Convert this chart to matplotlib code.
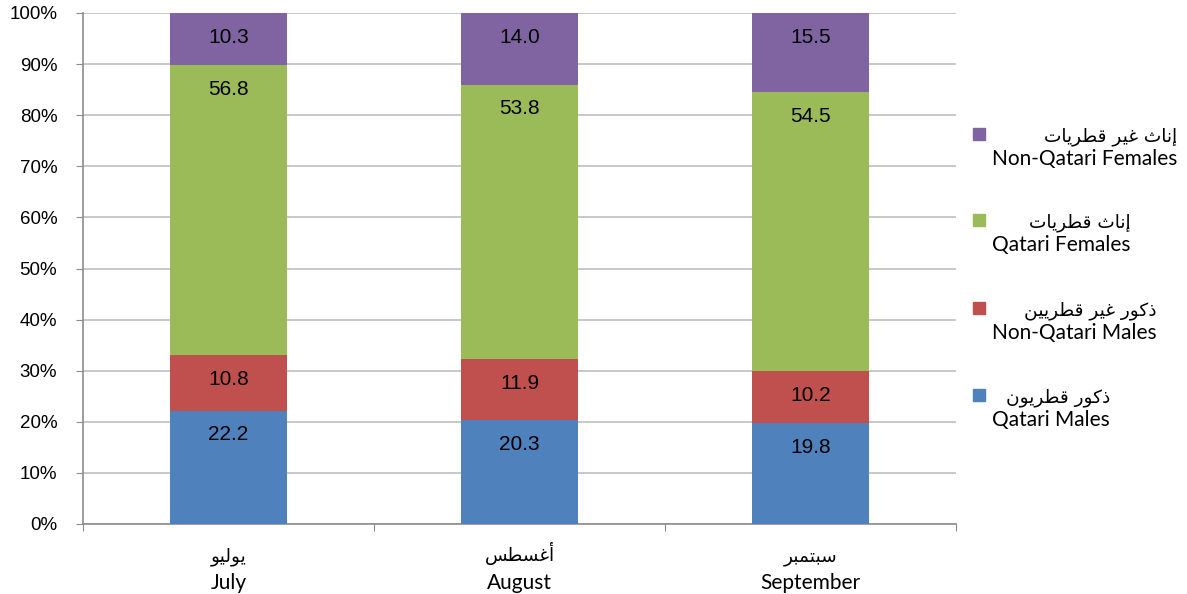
import matplotlib
matplotlib.use("Agg")
import matplotlib.pyplot as plt
import numpy as np
from matplotlib.patches import Rectangle
from matplotlib.transforms import blended_transform_factory

# ---------------- data ----------------
months_ar = ["يوليو", "أغسطس", "سبتمبر"]
months_en = ["July", "August", "September"]
series_ar = ["ذكور قطريون", "ذكور غير قطريين", "إناث قطريات", "إناث غير قطريات"]
series_en = ["Qatari Males", "Non-Qatari Males", "Qatari Females", "Non-Qatari Females"]
qatari_males = [22.2, 20.3, 19.8]
non_qatari_males = [10.8, 11.9, 10.2]
qatari_females = [56.8, 53.8, 54.5]
non_qatari_females = [10.3, 14.0, 15.5]
colors = ["#4F81BD", "#C0504D", "#9BBB59", "#8064A2"]
yticks = list(range(0, 101, 10))

# ---------------- minimal Arabic shaping (presentation forms) ----------------
FORMS = {
    '\u0627': ('\uFE8D', '\uFE8E', None, None),
    '\u0623': ('\uFE83', '\uFE84', None, None),
    '\u0625': ('\uFE87', '\uFE88', None, None),
    '\u0628': ('\uFE8F', '\uFE90', '\uFE91', '\uFE92'),
    '\u062A': ('\uFE95', '\uFE96', '\uFE97', '\uFE98'),
    '\u062B': ('\uFE99', '\uFE9A', '\uFE9B', '\uFE9C'),
    '\u0630': ('\uFEAB', '\uFEAC', None, None),
    '\u0631': ('\uFEAD', '\uFEAE', None, None),
    '\u0633': ('\uFEB1', '\uFEB2', '\uFEB3', '\uFEB4'),
    '\u0637': ('\uFEC1', '\uFEC2', '\uFEC3', '\uFEC4'),
    '\u063A': ('\uFECD', '\uFECE', '\uFECF', '\uFED0'),
    '\u0642': ('\uFED5', '\uFED6', '\uFED7', '\uFED8'),
    '\u0643': ('\uFED9', '\uFEDA', '\uFEDB', '\uFEDC'),
    '\u0644': ('\uFEDD', '\uFEDE', '\uFEDF', '\uFEE0'),
    '\u0645': ('\uFEE1', '\uFEE2', '\uFEE3', '\uFEE4'),
    '\u0646': ('\uFEE5', '\uFEE6', '\uFEE7', '\uFEE8'),
    '\u0648': ('\uFEED', '\uFEEE', None, None),
    '\u064A': ('\uFEF1', '\uFEF2', '\uFEF3', '\uFEF4'),
}


def shape(s):
    out = []
    for i, c in enumerate(s):
        if c not in FORMS:
            out.append(c)
            continue
        prev = s[i - 1] if i > 0 else None
        nxt = s[i + 1] if i + 1 < len(s) else None
        jp = prev in FORMS and FORMS[prev][2] is not None
        jn = FORMS[c][2] is not None and nxt in FORMS
        iso, fin, ini, med = FORMS[c]
        if jp and jn:
            out.append(med)
        elif jp:
            out.append(fin)
        elif jn:
            out.append(ini)
        else:
            out.append(iso)
    return ''.join(reversed(out))


W, H = 1187, 594
AR_FONT = dict(family="DejaVu Sans", fontsize=13.3)
EN_FONT = dict(family="Lato", fontsize=15)

# ---------------- figure ----------------
fig = plt.figure(figsize=(W / 100, H / 100), dpi=100)
ax = fig.add_axes([83 / W, 1 - 524 / H, (956 - 83) / W, (524 - 13) / H])

x = np.arange(len(months_en))
data = [qatari_males, non_qatari_males, qatari_females, non_qatari_females]
bottom = np.zeros(len(x))
width = 0.40
for vals, col in zip(data, colors):
    vals = np.array(vals)
    ax.bar(x, vals, width, bottom=bottom, color=col, zorder=3)
    tops = np.minimum(bottom + vals, 100)
    for xi, top, v in zip(x, tops, vals):
        ax.annotate(f"{v:.1f}", (xi, top), xytext=(0, -17.5), textcoords="offset points",
                    ha="center", va="center", fontsize=15, family="Liberation Sans",
                    color="black", zorder=4)
    bottom = bottom + vals

ax.set_xlim(-0.5, 2.5)
ax.set_ylim(0, 100)
ax.set_yticks(yticks)
ax.set_yticklabels([f"{t}%" for t in yticks], fontsize=13.5, family="Liberation Sans")
ax.yaxis.grid(True, color="#BFBFBF", linewidth=1.2, zorder=0)
ax.set_xticks([-0.5, 0.5, 1.5, 2.5])
ax.set_xticklabels([])
ax.tick_params(axis="x", which="major", length=5, color="#8C8C8C", direction="out")
ax.tick_params(axis="y", length=5, color="#8C8C8C", direction="out", pad=13.5)
for s in ["top", "right"]:
    ax.spines[s].set_visible(False)
for s in ["left", "bottom"]:
    ax.spines[s].set_color("#8C8C8C")
    ax.spines[s].set_linewidth(1.2)
ax.spines["left"].set_zorder(5)

# category labels (Arabic line above English line), placed below the axis
blend = blended_transform_factory(ax.transData, fig.transFigure)
for xi, a, e in zip(x, months_ar, months_en):
    ax.text(xi, 1 - 561 / H, shape(a), transform=blend, ha="center", va="baseline", **AR_FONT)
    ax.text(xi, 1 - 589 / H, e, transform=blend, ha="center", va="baseline", **EN_FONT)

# ---------------- legend (manual, top = last series) ----------------
leg_y = [132, 218, 306, 393]
order = [3, 2, 1, 0]
renderer = fig.canvas.get_renderer()
for yy, idx in zip(leg_y, order):
    fig.patches.append(Rectangle((973 / W, 1 - (yy + 8) / H), 12 / W, 12 / H,
                                 transform=fig.transFigure, color=colors[idx]))
    t_en = fig.text(992 / W, 1 - (yy + 33) / H, series_en[idx], ha="left", va="baseline", **EN_FONT)
    bb = t_en.get_window_extent(renderer=renderer)
    fig.text(bb.x1 / W, 1 - (yy + 9) / H, shape(series_ar[idx]), ha="right", va="baseline", **AR_FONT)

fig.savefig("out.png", dpi=100)
